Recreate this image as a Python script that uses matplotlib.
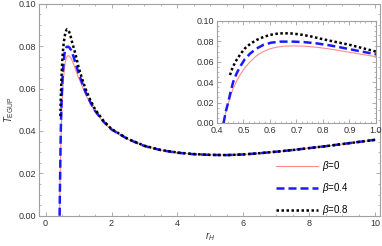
import matplotlib
matplotlib.use("Agg")
import matplotlib.pyplot as plt
from matplotlib.ticker import MultipleLocator

plt.rcParams['font.family'] = ['Liberation Sans', 'DejaVu Sans']
plt.rcParams['mathtext.fontset'] = 'custom'
plt.rcParams['mathtext.it'] = 'Liberation Sans:italic'
plt.rcParams['mathtext.rm'] = 'Liberation Sans'

# beta = 0
r_b0 = [0.424, 0.433, 0.443, 0.452, 0.4615, 0.474, 0.487, 0.505, 0.525, 0.55, 0.575, 0.6, 0.625,
        0.655, 0.688, 0.73, 0.776, 0.82, 0.864, 0.93, 1.0, 1.1, 1.2, 1.35, 1.5, 1.75, 2.0, 2.5, 3.0,
        3.5, 4.0, 4.5, 5.0, 5.5, 6.0, 6.5, 7.0, 7.5, 8.0, 8.5, 9.0, 9.5, 10.0]
T_b0 = [0.0, 0.0100, 0.0193, 0.0270, 0.0340, 0.0410, 0.0470, 0.0540, 0.0600, 0.0660, 0.0700, 0.0727,
        0.0742, 0.0752, 0.0755, 0.0752, 0.0742, 0.0727, 0.0709, 0.0680, 0.0650, 0.0615, 0.0575,
        0.0530, 0.0490, 0.0442, 0.0405, 0.0360, 0.0328, 0.0309, 0.0297, 0.0290, 0.0287, 0.0286,
        0.0289, 0.0295, 0.0302, 0.0310, 0.0319, 0.0328, 0.0338, 0.0348, 0.0358]

# beta = 0.4
r_b4 = [0.425, 0.433, 0.443, 0.452, 0.4615, 0.474, 0.487, 0.505, 0.525, 0.55, 0.575, 0.605, 0.638,
        0.688, 0.73, 0.776, 0.82, 0.864, 0.93, 1.0, 1.1, 1.2, 1.35, 1.5, 1.75, 2.0, 2.5, 3.0,
        3.5, 4.0, 4.5, 5.0, 5.5, 6.0, 6.5, 7.0, 7.5, 8.0, 8.5, 9.0, 9.5, 10.0]
T_b4 = [0.0, 0.0110, 0.0209, 0.0310, 0.0405, 0.0485, 0.0550, 0.0625, 0.0680, 0.0730, 0.0765, 0.0787,
        0.0797, 0.0797, 0.0792, 0.0780, 0.0763, 0.0742, 0.0708, 0.0673, 0.0630, 0.0588, 0.0538,
        0.0495, 0.0445, 0.0407, 0.0361, 0.0329, 0.0309, 0.0297, 0.0290, 0.0287, 0.0286,
        0.0289, 0.0295, 0.0302, 0.0310, 0.0319, 0.0328, 0.0338, 0.0348, 0.0358]

# beta = 0.8
r_b8 = [0.449, 0.46, 0.474, 0.49, 0.506, 0.527, 0.55, 0.575, 0.6, 0.625, 0.65, 0.68, 0.713, 0.755,
        0.801, 0.85, 0.902, 0.95, 1.0, 1.1, 1.2, 1.35, 1.5, 1.75, 2.0, 2.5, 3.0,
        3.5, 4.0, 4.5, 5.0, 5.5, 6.0, 6.5, 7.0, 7.5, 8.0, 8.5, 9.0, 9.5, 10.0]
T_b8 = [0.0470, 0.0550, 0.0618, 0.0680, 0.0732, 0.0778, 0.0814, 0.0842, 0.0863, 0.0874, 0.0879,
        0.0877, 0.0868, 0.0848, 0.0820, 0.0793, 0.0765, 0.0733, 0.0700, 0.0650, 0.0603, 0.0548,
        0.0502, 0.0449, 0.0409, 0.0362, 0.0330, 0.0310, 0.0298, 0.0291, 0.0287, 0.0286,
        0.0289, 0.0295, 0.0302, 0.0310, 0.0319, 0.0328, 0.0338, 0.0348, 0.0358]

labels = [r'$\beta$=0', r'$\beta$=0.4', r'$\beta$=0.8']

pink = '#ff8c8c'
blue = '#1a1aff'
frame_col = '#a0a0a0'
fs = 6.5

fig = plt.figure(figsize=(3.82, 2.46), dpi=100)
ax = fig.add_axes([0.103, 0.123, 0.892, 0.862])


def style(a):
    for s in a.spines.values():
        s.set_color(frame_col)
        s.set_linewidth(0.8)
    a.tick_params(which='both', direction='in', top=True, right=True,
                  color=frame_col, labelsize=fs, labelcolor='#333333', pad=2)
    a.tick_params(which='major', length=3, width=0.6)
    a.tick_params(which='minor', length=1.6, width=0.5)


def draw(a):
    a.plot(r_b0, T_b0, color=pink, lw=0.8, label=labels[0])
    a.plot(r_b4, T_b4, color=blue, lw=1.8, dashes=(3.2, 1.6), label=labels[1])
    a.plot(r_b8, T_b8, color='black', lw=1.8, dashes=(1.0, 1.0), label=labels[2])


draw(ax)
style(ax)
ax.set_xlim(-0.19, 10.15)
ax.set_ylim(0, 0.1)
ax.xaxis.set_major_locator(MultipleLocator(2))
ax.xaxis.set_minor_locator(MultipleLocator(0.5))
ax.yaxis.set_major_locator(MultipleLocator(0.02))
ax.yaxis.set_minor_locator(MultipleLocator(0.005))
ax.yaxis.set_major_formatter(matplotlib.ticker.FormatStrFormatter('%.2f'))
ax.set_xlabel(r'$r_H$', fontsize=7, labelpad=2, color='#333333')
ax.set_ylabel(r'$T_{\mathrm{EGUP}}$', fontsize=7, labelpad=2, color='#333333')

leg = ax.legend(loc='lower right', bbox_to_anchor=(0.935, -0.047), frameon=False,
                fontsize=7, handlelength=4.3, handletextpad=0.5, labelspacing=0.8)

ins = fig.add_axes([0.568, 0.5, 0.416, 0.415])
draw(ins)
style(ins)
ins.set_xlim(0.4, 1.0)
ins.set_ylim(0, 0.1)
ins.xaxis.set_major_locator(MultipleLocator(0.1))
ins.xaxis.set_minor_locator(MultipleLocator(0.02))
ins.yaxis.set_major_locator(MultipleLocator(0.02))
ins.yaxis.set_minor_locator(MultipleLocator(0.005))
ins.yaxis.set_major_formatter(matplotlib.ticker.FormatStrFormatter('%.2f'))
ins.xaxis.set_major_formatter(matplotlib.ticker.FormatStrFormatter('%.1f'))

fig.savefig('out.png', dpi=100)
